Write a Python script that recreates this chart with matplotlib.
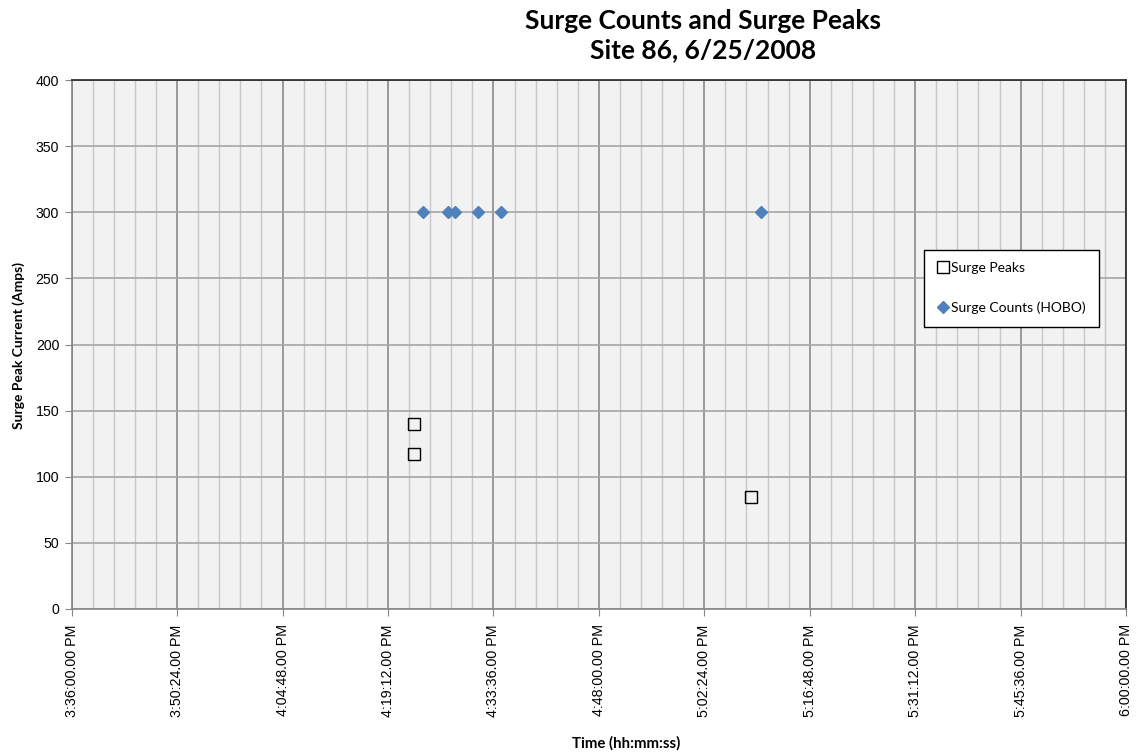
"""
Surge counts and surge peaks at site 86 on 6/25/2008
"""

from datetime import datetime

import matplotlib
matplotlib.use('Agg')
import matplotlib.pyplot as plt
import matplotlib.dates as mdates
import matplotlib.ticker as mticker

DAY = '2008-06-25'

# surge peaks measured by the recorder
peak_times = ['16:22:43', '16:22:43', '17:08:50']
peak_values = [140, 117, 85]

# surge counts from the HOBO logger (plotted at a fixed level)
count_times = ['16:24:01', '16:27:26', '16:28:21', '16:31:27', '16:34:36', '17:10:09']
count_values = [300, 300, 300, 300, 300, 300]

x_start = '15:36:00'
x_end = '18:00:00'
y_ticks = [0, 50, 100, 150, 200, 250, 300, 350, 400]


def to_dt(t):
    return datetime.strptime(f'{DAY} {t}', '%Y-%m-%d %H:%M:%S')


def time_label(x, pos=None):
    d = mdates.num2date(x)
    hour = d.hour % 12 or 12
    ampm = 'PM' if d.hour >= 12 else 'AM'
    return f'{hour}:{d.minute:02d}:{d.second:02d}.00 {ampm}'


def main():
    fig = plt.figure(figsize=(11.38, 7.55), dpi=100)
    ax = fig.add_axes([0.063, 0.1934, 0.9265, 0.7006])
    ax.set_facecolor('#f2f2f2')

    t0 = to_dt(x_start)
    t1 = to_dt(x_end)
    major_step = (t1 - t0) / 10
    minor_step = major_step / 5
    majors = [t0 + major_step * i for i in range(11)]
    minors = [t0 + minor_step * i for i in range(51)]

    ax.set_xlim(t0, t1)
    ax.set_ylim(0, 400)
    ax.xaxis.set_major_locator(mticker.FixedLocator(mdates.date2num(majors)))
    ax.xaxis.set_minor_locator(mticker.FixedLocator(mdates.date2num(minors)))
    ax.xaxis.set_major_formatter(mticker.FuncFormatter(time_label))
    ax.set_yticks(y_ticks)

    ax.grid(which='minor', axis='x', color='#c8c8c8', linewidth=1.0)
    ax.grid(which='major', axis='x', color='#999999', linewidth=1.4)
    ax.grid(which='major', axis='y', color='#a6a6a6', linewidth=1.2)
    ax.set_axisbelow(True)

    ax.plot([to_dt(t) for t in peak_times], peak_values, linestyle='none',
            marker='s', markersize=8, markerfacecolor='none',
            markeredgecolor='black', markeredgewidth=1.0, label='Surge Peaks')
    ax.plot([to_dt(t) for t in count_times], count_values, linestyle='none',
            marker='D', markersize=6, markerfacecolor='#4f81bd',
            markeredgecolor='#4f81bd', label='Surge Counts (HOBO)')

    for side in ['left', 'bottom']:
        ax.spines[side].set_color('#868686')
        ax.spines[side].set_linewidth(1.2)
    for side in ['top', 'right']:
        ax.spines[side].set_color('#222222')
        ax.spines[side].set_linewidth(1.2)

    ax.tick_params(axis='x', which='major', direction='out', length=5,
                   color='#868686', labelrotation=90, labelsize=10.3, pad=6)
    ax.tick_params(axis='x', which='minor', length=0)
    ax.tick_params(axis='y', direction='out', length=5, color='#868686',
                   labelsize=10.2, pad=4)
    for lbl in ax.get_xticklabels() + ax.get_yticklabels():
        lbl.set_fontfamily('Liberation Sans')

    leg = ax.legend(loc='center left', bbox_to_anchor=(0.808, 0.533, 0.159, 0.147),
                    frameon=True, fancybox=False, framealpha=1, edgecolor='black',
                    prop={'family': 'Lato', 'size': 10}, labelspacing=2.0,
                    handletextpad=0.1, handlelength=1.0, borderpad=0.9,
                    borderaxespad=0)
    leg.get_frame().set_linewidth(1.0)

    fig.text(0.618, 0.988, 'Surge Counts and Surge Peaks\nSite 86, 6/25/2008',
             ha='center', va='top', fontsize=19, fontweight='bold',
             family='Lato', linespacing=1.25)
    fig.text(0.550, 0.016, 'Time (hh:mm:ss)', ha='center', va='center',
             fontsize=10.8, fontweight='bold', family='Lato')
    fig.text(0.016, 0.543, 'Surge Peak Current (Amps)', ha='center', va='center',
             rotation=90, fontsize=10, fontweight='bold', family='Lato')

    fig.savefig('out.png', dpi=100)


if __name__ == '__main__':
    main()
